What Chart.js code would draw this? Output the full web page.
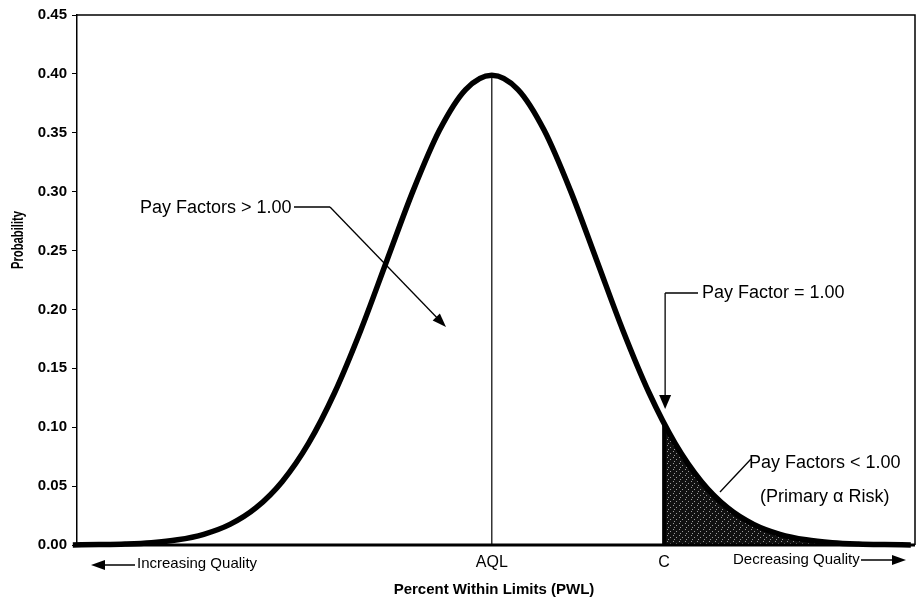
<!DOCTYPE html>
<html>
<head>
<meta charset="utf-8">
<script src="https://cdn.jsdelivr.net/npm/chart.js@4.4.1/dist/chart.umd.min.js"></script>
<style>
html, body { margin: 0; padding: 0; background: #fff; }
#wrap { width: 918px; height: 616px; }
</style>
</head>
<body>
<div id="wrap"><canvas id="chart"></canvas></div>
<script>
// curve (standard units around AQL)
const zValues = [-4, -3.75, -3.5, -3.25, -3, -2.75, -2.5, -2.25, -2, -1.75, -1.5, -1.25, -1, -0.75, -0.5, -0.25,
                 0, 0.25, 0.5, 0.75, 1, 1.25, 1.5, 1.75, 2, 2.25, 2.5, 2.75, 3, 3.25, 3.5, 3.75, 4];
const probability = [0.0001, 0.0004, 0.0009, 0.0020, 0.0044, 0.0091, 0.0175, 0.0317, 0.0540, 0.0863, 0.1295, 0.1826, 0.2420, 0.3011, 0.3521, 0.3867,
                     0.3989, 0.3867, 0.3521, 0.3011, 0.2420, 0.1826, 0.1295, 0.0863, 0.0540, 0.0317, 0.0175, 0.0091, 0.0044, 0.0020, 0.0009, 0.0004, 0.0001];

// shaded tail beyond C
const tailZ = [1.645, 1.75, 2, 2.25, 2.5, 2.75, 3, 3.25, 3.5, 3.75, 4];
const tailProb = [0.1031, 0.0863, 0.0540, 0.0317, 0.0175, 0.0091, 0.0044, 0.0020, 0.0009, 0.0004, 0.0001];

const aqlZ = 0;
const aqlPeak = 0.3989;
const cZ = 1.645;

const xCategoryLabels = ["AQL", "C"];
const xCategoryValues = [aqlZ, cZ];
const yTickValues = [0, 0.05, 0.10, 0.15, 0.20, 0.25, 0.30, 0.35, 0.40, 0.45];

const FONT = "'Liberation Sans', Arial, sans-serif";

function toPoints(xs, ys) {
    return xs.map(function(x, i) { return { x: x, y: ys[i] }; });
}

function makePattern() {
    const p = document.createElement("canvas");
    p.width = 6; p.height = 6;
    const g = p.getContext("2d");
    g.fillStyle = "#111";
    g.fillRect(0, 0, 6, 6);
    g.fillStyle = "#9a9a9a";
    g.fillRect(1, 1, 1, 1);
    g.fillRect(4, 3, 1, 1);
    g.fillRect(2, 5, 1, 1);
    return document.getElementById("chart").getContext("2d").createPattern(p, "repeat");
}

function arrow(ctx, x1, y1, x2, y2, len, half) {
    const a = Math.atan2(y2 - y1, x2 - x1);
    ctx.beginPath();
    ctx.moveTo(x1, y1);
    ctx.lineTo(x2 - Math.cos(a) * len * 0.8, y2 - Math.sin(a) * len * 0.8);
    ctx.stroke();
    ctx.beginPath();
    ctx.moveTo(x2, y2);
    ctx.lineTo(x2 - Math.cos(a) * len - Math.sin(a) * half, y2 - Math.sin(a) * len + Math.cos(a) * half);
    ctx.lineTo(x2 - Math.cos(a) * len + Math.sin(a) * half, y2 - Math.sin(a) * len - Math.cos(a) * half);
    ctx.closePath();
    ctx.fill();
}

const decorations = {
    id: "decorations",
    afterDatasetsDraw(chart) {
        const ctx = chart.ctx;
        const area = chart.chartArea;
        const xs = chart.scales.x;
        const ys = chart.scales.y;
        ctx.save();
        ctx.strokeStyle = "#000";
        ctx.fillStyle = "#000";

        // frame
        ctx.lineWidth = 1.5;
        ctx.beginPath();
        ctx.moveTo(area.left, area.top);
        ctx.lineTo(area.right, area.top);
        ctx.lineTo(area.right, area.bottom);
        ctx.stroke();
        ctx.lineWidth = 3;
        ctx.beginPath();
        ctx.moveTo(area.left, ys.getPixelForValue(0));
        ctx.lineTo(area.right, ys.getPixelForValue(0));
        ctx.stroke();

        // category labels under the axis
        ctx.font = "16px " + FONT;
        ctx.textAlign = "center";
        ctx.textBaseline = "middle";
        xCategoryLabels.forEach(function(t, i) {
            ctx.fillText(t, xs.getPixelForValue(xCategoryValues[i]), area.bottom + 18);
        });

        // direction labels
        ctx.font = "15px " + FONT;
        ctx.textAlign = "left";
        ctx.fillText("Increasing Quality", 137, area.bottom + 19);
        ctx.fillText("Decreasing Quality", 733, area.bottom + 15);
        ctx.lineWidth = 1.5;
        arrow(ctx, 135, area.bottom + 20, 91, area.bottom + 20, 14, 5);
        arrow(ctx, 861, area.bottom + 15, 906, area.bottom + 15, 14, 5);

        // axis titles
        ctx.font = "bold 15px " + FONT;
        ctx.textAlign = "center";
        ctx.fillText("Percent Within Limits (PWL)", (area.left + area.right) / 2 - 2, 590);
        ctx.save();
        ctx.translate(18, 240);
        ctx.rotate(-Math.PI / 2);
        ctx.font = "bold 17px " + FONT;
        ctx.scale(0.66, 1);
        ctx.fillText("Probability", 0, 0);
        ctx.restore();

        // annotations
        ctx.font = "18px " + FONT;
        ctx.textAlign = "left";
        ctx.lineWidth = 1.3;
        ctx.fillText("Pay Factors > 1.00", 140, 208);
        ctx.beginPath();
        ctx.moveTo(294, 207);
        ctx.lineTo(330, 207);
        ctx.stroke();
        arrow(ctx, 330, 207, 446, 327, 14, 5);

        const cx = xs.getPixelForValue(cZ) + 1;
        ctx.fillText("Pay Factor = 1.00", 702, 293);
        ctx.beginPath();
        ctx.moveTo(698, 293);
        ctx.lineTo(cx, 293);
        ctx.stroke();
        arrow(ctx, cx, 293, cx, 409, 14, 6);

        ctx.fillText("Pay Factors < 1.00", 749, 463);
        ctx.fillText("(Primary \u03b1 Risk)", 760, 497);
        ctx.beginPath();
        ctx.moveTo(751, 459);
        ctx.lineTo(720, 492);
        ctx.stroke();

        ctx.restore();
    }
};

new Chart(document.getElementById("chart"), {
    type: "line",
    data: {
        datasets: [
            {
                label: "Probability",
                data: toPoints(zValues, probability),
                borderColor: "#000",
                borderWidth: 5.5,
                pointRadius: 0,
                cubicInterpolationMode: "monotone",
                fill: false,
                clip: 6,
                order: 1
            },
            {
                label: "Pay Factors < 1.00",
                data: toPoints(tailZ, tailProb),
                borderWidth: 0,
                borderColor: "rgba(0,0,0,0)",
                backgroundColor: makePattern(),
                pointRadius: 0,
                cubicInterpolationMode: "monotone",
                fill: "origin",
                order: 4
            },
            {
                label: "C",
                data: [{ x: cZ, y: 0 }, { x: cZ, y: tailProb[0] }],
                borderColor: "#000",
                borderWidth: 4,
                pointRadius: 0,
                fill: false,
                order: 2
            },
            {
                label: "AQL",
                data: [{ x: aqlZ, y: 0 }, { x: aqlZ, y: aqlPeak }],
                borderColor: "#000",
                borderWidth: 1.2,
                pointRadius: 0,
                fill: false,
                order: 3
            }
        ]
    },
    options: {
        responsive: true,
        maintainAspectRatio: false,
        animation: false,
        layout: { padding: { top: 15, right: 3, bottom: 71, left: 0 } },
        plugins: {
            legend: { display: false },
            tooltip: { enabled: false }
        },
        scales: {
            x: {
                type: "linear",
                min: -3.96,
                max: 4.04,
                display: false
            },
            y: {
                min: 0,
                max: 0.45,
                afterFit: function(scale) { scale.width = 77; },
                afterBuildTicks: function(scale) {
                    scale.ticks = yTickValues.map(function(v) { return { value: v }; });
                },
                ticks: {
                    color: "#000",
                    padding: 5,
                    font: { family: FONT, size: 15, weight: "bold" },
                    callback: function(v) { return Number(v).toFixed(2); }
                },
                grid: {
                    display: true,
                    drawOnChartArea: false,
                    drawTicks: true,
                    tickLength: 5,
                    color: "#000"
                },
                border: { display: true, color: "#000", width: 1.5 }
            }
        }
    },
    plugins: [decorations]
});
</script>
</body>
</html>
